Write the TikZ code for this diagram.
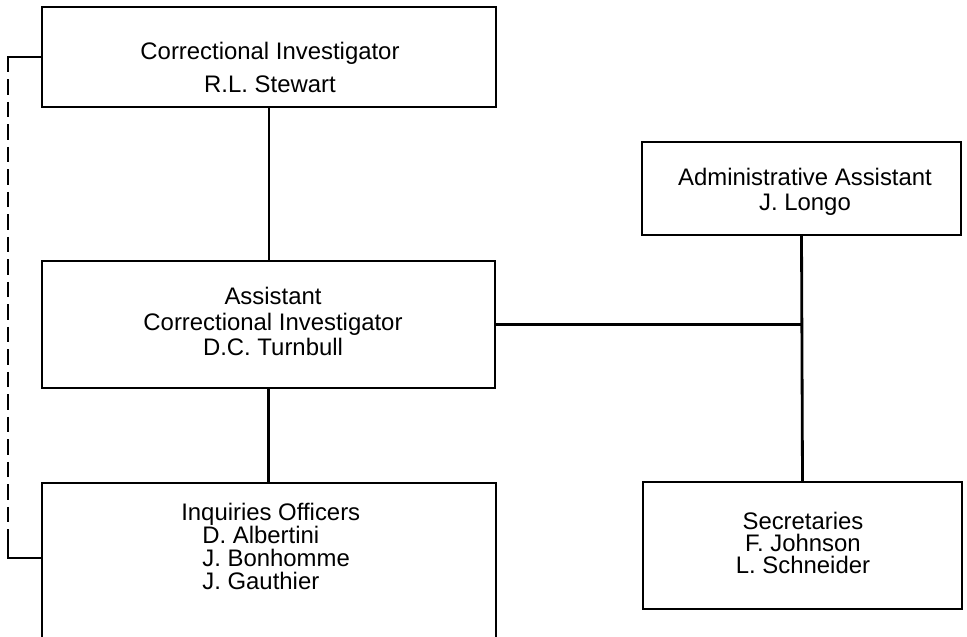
\documentclass[tikz,border=0pt]{standalone}
\usepackage{fontspec}
\setmainfont{Liberation Sans}
\usetikzlibrary{calc}
\begin{document}
\begin{tikzpicture}[x=0.025cm,y=-0.025cm,
  orgbox/.style={draw,line width=1.3pt,inner sep=0pt,rectangle},
  lbl/.style={inner sep=0pt,anchor=north,align=center},
  link/.style={line width=2pt},
  dotlink/.style={line width=1.7pt,dash pattern=on 11pt off 5pt},
  elbow/.style={line width=1.7pt}]
\useasboundingbox (0,0) rectangle (967,637);
\clip (0,0) rectangle (967,637);
% boxes
\node[orgbox,minimum width=11.35cm,minimum height=2.5cm] (ci) at (269,57) {};
\node[orgbox,minimum width=11.325cm,minimum height=3.175cm] (aci) at (268.5,324.5) {};
\node[orgbox,minimum width=11.35cm,minimum height=5cm] (io) at (269,583) {};
\node[orgbox,minimum width=7.975cm,minimum height=2.325cm] (adm) at (801.5,188.5) {};
\node[orgbox,minimum width=7.975cm,minimum height=3.175cm] (sec) at (802.5,545.5) {};
% labels
\node[lbl,font=\fontsize{17}{23.5}\selectfont] (cit) at (270,42) {Correctional Investigator\\R.L. Stewart};
\node[lbl,font=\fontsize{17}{18.1}\selectfont] (acit) at (273,287) {Assistant\\Correctional Investigator\\D.C. Turnbull};
\node[lbl,font=\fontsize{17}{17.8}\selectfont] (admt) at (805,168) {Administrative Assistant\\J. Longo};
\node[lbl,anchor=north west,align=left,font=\fontsize{17}{16.4}\selectfont] (iot) at (181,503) {Inquiries Officers\\\hspace*{15pt}D. Albertini\\\hspace*{15pt}J. Bonhomme\\\hspace*{15pt}J. Gauthier};
\node[lbl,font=\fontsize{17}{15.6}\selectfont] (sect) at (803,512) {Secretaries\\F. Johnson\\L. Schneider};
% connectors
\draw[link] (ci.south) -- (ci.south |- aci.north);
\draw[link] (aci.south) -- (aci.south |- io.north);
\draw[link] (adm.south) -- (sec.north);
\draw[link] (aci.east) -- (aci.east -| adm.south);
\coordinate (iol) at ($(io.north west)+(0,76)$);
\coordinate (cil) at ($(ci.west)+(-33,0)$);
\coordinate (iob) at ($(iol)+(-33,0)$);
\draw[dotlink] (cil) -- (iob);
\draw[elbow] (ci.west) -- (cil) -- ++(0,12);
\draw[elbow] (iol) -- (iob) -- ++(0,-14);
\end{tikzpicture}
\end{document}
